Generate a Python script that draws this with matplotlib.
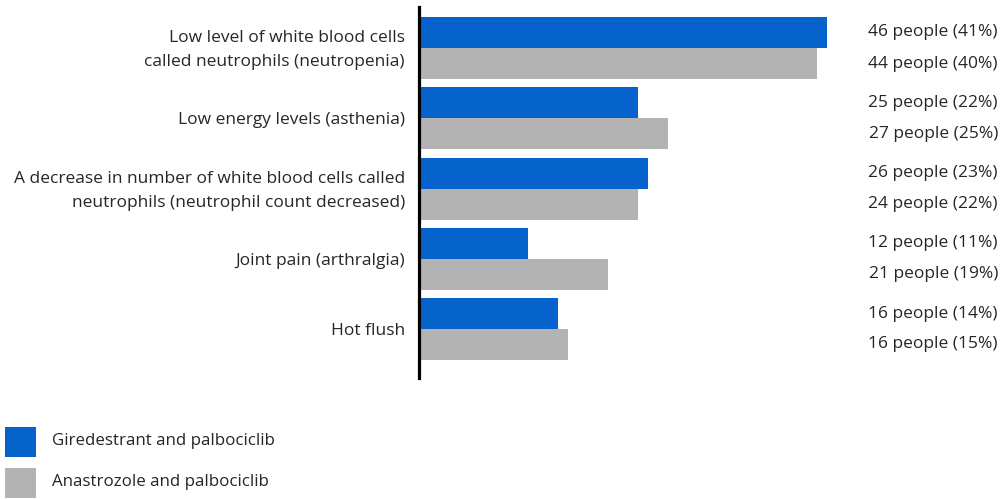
import matplotlib
matplotlib.use("Agg")
import matplotlib.pyplot as plt
import matplotlib.transforms as mtransforms
from matplotlib.patches import Rectangle

categories = [
    "Low level of white blood cells\ncalled neutrophils (neutropenia)",
    "Low energy levels (asthenia)",
    "A decrease in number of white blood cells called\nneutrophils (neutrophil count decreased)",
    "Joint pain (arthralgia)",
    "Hot flush",
]
series_names = ["Giredestrant and palbociclib", "Anastrozole and palbociclib"]
giredestrant_people = [46, 25, 26, 12, 16]
giredestrant_pct = [41, 22, 23, 11, 14]
anastrozole_people = [44, 27, 24, 21, 16]
anastrozole_pct = [40, 25, 22, 19, 15]

BLUE = "#0563CB"
GRAY = "#B3B3B3"
TEXT = "#262626"

plt.rcParams['font.family'] = ['Open Sans', 'DejaVu Sans']
FS = 12.5

W, H = 1003, 499
fig = plt.figure(figsize=(W / 100, H / 100), dpi=100)

# axes placement in pixels
ax_left, ax_right, ax_top, ax_bottom = 419, 1003, 7, 378
ax = fig.add_axes([ax_left / W, 1 - ax_bottom / H, (ax_right - ax_left) / W, (ax_bottom - ax_top) / H])

pitch = 70.25
first_center = 48
ax.set_ylim((ax_bottom - first_center) / pitch, (ax_top - first_center) / pitch)
ax.set_xlim(0, (ax_right - ax_left) / 9.95)

bar_h = 31 / pitch
pos = list(range(len(categories)))
blue_y = [p - bar_h / 2 for p in pos]
gray_y = [p + bar_h / 2 for p in pos]
ax.barh(blue_y, giredestrant_pct, height=bar_h, color=BLUE, linewidth=0)
ax.barh(gray_y, anastrozole_pct, height=bar_h, color=GRAY, linewidth=0)

for s in ["top", "right", "bottom"]:
    ax.spines[s].set_visible(False)
ax.spines["left"].set_linewidth(2.3)
ax.spines["left"].set_color("black")
ax.set_xticks([])
ax.set_yticks([])

# category labels
trans_lab = mtransforms.blended_transform_factory(fig.transFigure, ax.transData)
for p, c in zip(pos, categories):
    ax.text(405 / W, p + 0.03, c, transform=trans_lab, ha="right", va="center",
            fontsize=FS, color=TEXT, linespacing=1.65)

# value labels
for y, n, pc in zip(blue_y, giredestrant_people, giredestrant_pct):
    ax.text(998 / W, y, f"{n} people ({pc}%)", transform=trans_lab, ha="right",
            va="center", fontsize=FS, color=TEXT)
for y, n, pc in zip(gray_y, anastrozole_people, anastrozole_pct):
    ax.text(998 / W, y, f"{n} people ({pc}%)", transform=trans_lab, ha="right",
            va="center", fontsize=FS, color=TEXT)

# legend (manual)
for (top, col, name) in [(427, BLUE, series_names[0]), (468, GRAY, series_names[1])]:
    fig.add_artist(Rectangle((5 / W, 1 - (top + 30) / H), 31 / W, 30 / H,
                             transform=fig.transFigure, color=col, linewidth=0))
    fig.text(52 / W, 1 - (top + 14) / H, name, ha="left", va="center",
             fontsize=12.2, color=TEXT)

fig.savefig("out.png", dpi=100)
